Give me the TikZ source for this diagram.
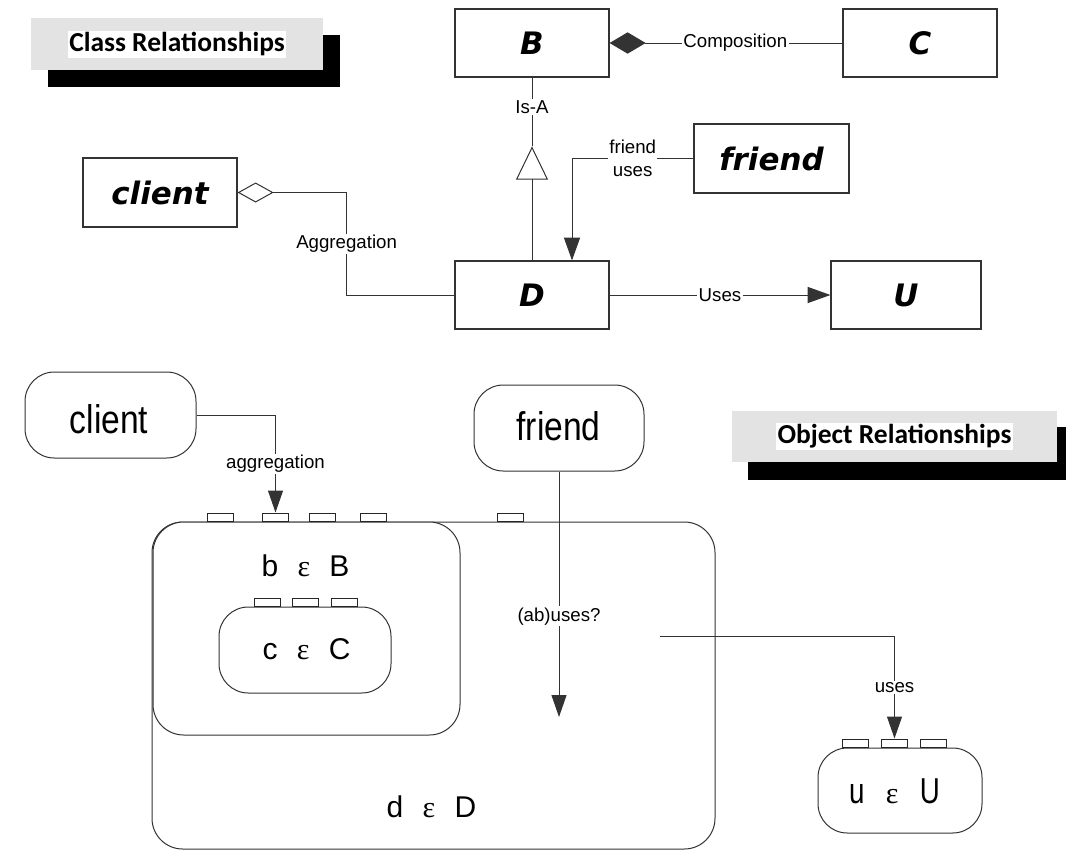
\documentclass[tikz,border=0pt]{standalone}
\usepackage{fontspec}
\usepackage{graphicx}
\setmainfont{Liberation Sans}
\newfontfamily\clsfont{DejaVu Sans}
\newfontfamily\ttlfont{Carlito}
\newfontfamily\epsfont{Liberation Serif}
\usetikzlibrary{arrows.meta,calc}
\newcommand\myeps[1]{\hspace{#1}{\epsfont ε}\hspace{#1}}
\tikzset{
  cls/.style={draw=black!80, line width=0.9pt, minimum width=154*0.75pt, minimum height=68*0.75pt, inner sep=0pt,
    font=\clsfont\bfseries\itshape\fontsize{23.2}{28}\selectfont},
  lbl/.style={fill=white, inner sep=1pt, font=\fontsize{14}{17}\selectfont},
  conn/.style={draw=black!80, line width=0.75pt},
  tipA/.style={-{Triangle[length=17pt,width=12pt]}},
  tipB/.style={-{Triangle[length=16.5pt,width=11.25pt]}},
  objbox/.style={draw=black!80, line width=0.75pt, rounded corners=22pt, fill=white, inner sep=0pt},
  tabbox/.style={draw=black!85, line width=0.75pt, fill=white, minimum width=26*0.75pt, minimum height=8.5*0.75pt, inner sep=0pt, anchor=south},
  ttl/.style={fill=white, inner xsep=1.2pt, inner ysep=0pt, minimum height=27*0.75pt,
    font=\ttlfont\bfseries\fontsize{20.6}{24}\selectfont},
  objtxt/.style={anchor=base, inner sep=0pt, font=\fontsize{22.5}{27}\selectfont},
}
\begin{document}
\begin{tikzpicture}[x=0.75pt,y=-0.75pt]
\useasboundingbox (0,0) rectangle (1066,850);
\fill[white] (0,0) rectangle (1066,850);

% ---------- titles ----------
\fill[black] (48,35) rectangle (340,87);
\fill[gray!22] (31,18) rectangle (323,70);
\node[ttl] (t1) at (177,44) {Class Relationships};

\fill[black] (748,427) rectangle (1073,480);
\fill[gray!22] (732,411) rectangle (1057,462);
\node[ttl] (t2) at (894.5,436.5) {Object Relationships};

% ---------- class diagram ----------
\node[cls] (B) at (532,43) {B};
\node[cls] (C) at (920,43) {C};
\node[cls] (D) at (532,295) {D};
\node[cls, minimum width=150*0.75pt] (U) at (906,295) {U};
\node[cls, minimum width=155*0.75pt, minimum height=69*0.75pt] (fr) at (771.5,158.5) {friend};
\node[cls, minimum height=69*0.75pt] (cl) at (160,192.5) {client};

\draw[conn, {Diamond[length=27pt,width=16pt]}-] (B.east) -- node[lbl, pos=0.54]{Composition} (C.west);
\draw[conn, {Diamond[open,length=27pt,width=15pt]}-] (cl.east) -- ($(cl.east)+(109,0)$) |- node[lbl, pos=0.25]{Aggregation} (D.west);

\coordinate (isa) at ($(D.north)+(0,-114)$);
\draw[conn, -{Triangle[open,length=25pt,width=24pt]}] (D.north) -- (isa);
\draw[conn] (isa) -- node[lbl, pos=0.57]{Is-A} (B.south);

\draw[conn, tipA] (fr.west) -| node[lbl, pos=0.25, align=center]{friend\\uses} ($(D.north)+(40,0)$);
\draw[conn, tipA] (D.east) -- node[lbl]{Uses} (U.west);

% ---------- object diagram ----------
\node[objbox, rounded corners=23pt, minimum width=563*0.75pt, minimum height=327*0.75pt] (dbox) at (433.5,685.5) {};
\node[objbox, rounded corners=23pt, minimum width=307*0.75pt, minimum height=213*0.75pt] (bbox) at (306.5,628.5) {};
\node[objbox, minimum width=172*0.75pt, minimum height=86*0.75pt] (cbox) at (305,650) {};
\node[objbox, minimum width=164*0.75pt, minimum height=85*0.75pt] (ubox) at (900,790.5) {};
\node[objbox, minimum width=171*0.75pt, minimum height=86*0.75pt] (cobj) at (110.5,415) {};
\node[objbox, minimum width=170*0.75pt, minimum height=86*0.75pt] (fobj) at (559,428) {};

% tabs
\node[tabbox] (dt1) at (220.5,522) {};
\node[tabbox] (dt2) at (275.5,522) {};
\node[tabbox] (dt3) at (322,522) {};
\node[tabbox] (dt4) at (373.5,522) {};
\node[tabbox] (dt5) at (510,522) {};
\node[tabbox] (ct1) at (267.5,607) {};
\node[tabbox] (ct2) at (305.5,607) {};
\node[tabbox] (ct3) at (344,607) {};
\node[tabbox] (ut1) at (855.5,748) {};
\node[tabbox] (ut2) at (894.5,748) {};
\node[tabbox] (ut3) at (933,748) {};

% texts
\node[objtxt] (tc) at (109,433) {\scalebox{0.84}[1]{\fontsize{30}{36}\selectfont client}};
\node[objtxt] (tf) at (558.5,440) {\scalebox{0.84}[1]{\fontsize{30}{36}\selectfont friend}};
\node[objtxt] (tb) at (305.5,576) {b\myeps{14.5pt}B};
\node[objtxt] (tcc) at (306.5,659) {c\myeps{14.5pt}C};
\node[objtxt] (td) at (431.5,817) {d\myeps{14.5pt}D};
\node[objtxt] (tu) at (894.5,803) {\scalebox{0.77}[1]{\fontsize{27}{32}\selectfont u}\myeps{16pt}\scalebox{0.77}[1]{\fontsize{27}{32}\selectfont U}};

% connectors
\draw[conn, tipB] (cobj.east) -| node[lbl, pos=0.75]{aggregation} (dt2.north);
\coordinate (abEnd) at (559,717);
\draw[conn, tipB] (fobj.south) -- node[lbl, pos=0.59]{(ab)uses?} (abEnd);
\coordinate (uStart) at (660,636);
\draw[conn, tipB] (uStart) -| node[lbl, pos=0.75]{uses} (ut2.north);
\end{tikzpicture}
\end{document}
